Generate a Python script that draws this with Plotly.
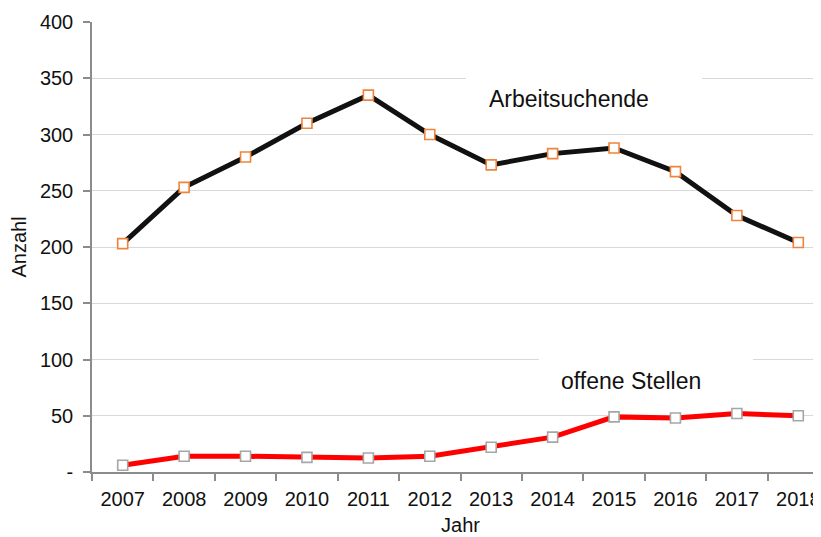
import plotly.graph_objects as go

years = ["2007", "2008", "2009", "2010", "2011", "2012", "2013", "2014", "2015", "2016", "2017", "2018"]
arbeitsuchende = [203, 253, 280, 310, 335, 300, 273, 283, 288, 267, 228, 204]
offene_stellen = [6, 14, 14, 13, 12.5, 14, 22, 31, 49, 48, 52, 50]
y_ticks = [0, 50, 100, 150, 200, 250, 300, 350, 400]
y_ticktext = ["-", "50", "100", "150", "200", "250", "300", "350", "400"]

FONT = "Liberation Sans, Arial, sans-serif"

fig = go.Figure()
fig.add_trace(go.Scatter(
    x=years, y=arbeitsuchende, mode="lines+markers", name="Arbeitsuchende",
    line=dict(color="#111111", width=5),
    marker=dict(symbol="square", size=10, color="white", line=dict(color="#f0843c", width=1.6)),
))
fig.add_trace(go.Scatter(
    x=years, y=offene_stellen, mode="lines+markers", name="offene Stellen",
    line=dict(color="#ff0000", width=5),
    marker=dict(symbol="square", size=10, color="white", line=dict(color="#a6a6a6", width=1.6)),
))

# white label boxes interrupting gridlines
fig.add_shape(type="rect", xref="paper", yref="y", x0=0.5075, x1=0.8277, y0=318, y1=362,
              fillcolor="white", line=dict(width=0), layer="above")
fig.add_shape(type="rect", xref="paper", yref="y", x0=0.6065, x1=0.897, y0=66, y1=108,
              fillcolor="white", line=dict(width=0), layer="above")

fig.add_annotation(x=7.27, y=332, xref="x", yref="y", text="Arbeitsuchende", showarrow=False,
                   font=dict(family=FONT, size=23, color="#111111"))
fig.add_annotation(x=8.28, y=81, xref="x", yref="y", text="offene Stellen", showarrow=False,
                   font=dict(family=FONT, size=23, color="#111111"))

fig.update_layout(
    width=821, height=537,
    margin=dict(l=84, r=0, t=14, b=73),
    paper_bgcolor="white", plot_bgcolor="white",
    showlegend=False,
    font=dict(family=FONT, color="#111111"),
)
fig.update_xaxes(
    type="category", range=[-0.5, 11.5], tickson="boundaries",
    showgrid=False, showline=True, linecolor="#8c8c8c", linewidth=1.5,
    ticks="outside", ticklen=7, tickcolor="#8c8c8c", tickwidth=1.5,
    ticklabelstandoff=8,
    tickfont=dict(family=FONT, size=20, color="#111111"),
    title=dict(text="Jahr", font=dict(family=FONT, size=20, color="#111111"), standoff=9),
)
fig.update_yaxes(
    range=[0, 400], tickvals=y_ticks, ticktext=y_ticktext,
    showgrid=True, gridcolor="#d9d9d9", gridwidth=1,
    showline=True, linecolor="#8c8c8c", linewidth=1.5,
    ticks="outside", ticklen=7, tickcolor="#8c8c8c", tickwidth=1.5,
    ticklabelstandoff=6,
    tickfont=dict(family=FONT, size=20, color="#111111"),
    title=dict(text="Anzahl", font=dict(family=FONT, size=20, color="#111111"), standoff=17),
    zeroline=False,
)

fig.write_html("out.html")
